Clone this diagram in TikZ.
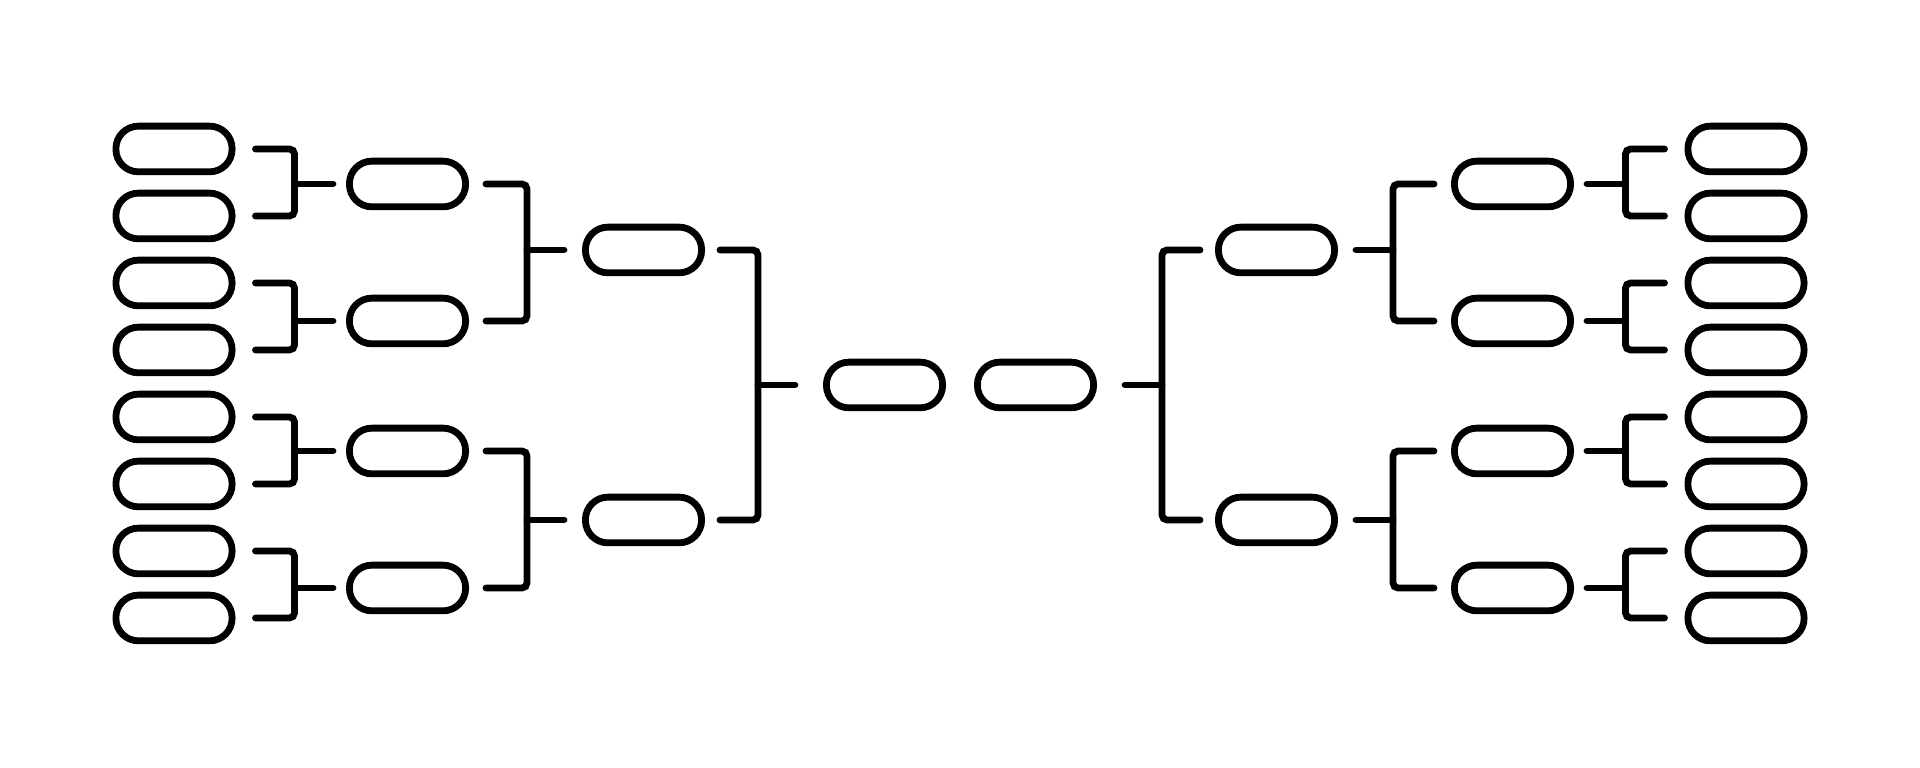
\documentclass[tikz,border=0pt]{standalone}
\usetikzlibrary{calc}
\tikzset{
  slot/.style={draw, line width=0.68mm, rounded corners=2.25mm, minimum width=11.62mm, minimum height=4.57mm, inner sep=0pt},
  link/.style={line width=0.68mm, line cap=round, rounded corners=0.5mm}
}
\begin{document}
\begin{tikzpicture}[x=0.1mm, y=-0.1mm]
  \useasboundingbox (0,0) rectangle (1920,768);
  \node[slot] (L11) at (174,149) {};
  \node[slot] (L12) at (174,216) {};
  \node[slot] (L13) at (174,283) {};
  \node[slot] (L14) at (174,350) {};
  \node[slot] (L15) at (174,417) {};
  \node[slot] (L16) at (174,484) {};
  \node[slot] (L17) at (174,551) {};
  \node[slot] (L18) at (174,618) {};
  \node[slot] (L21) at (407.5,184) {};
  \node[slot] (L22) at (407.5,321) {};
  \node[slot] (L23) at (407.5,451) {};
  \node[slot] (L24) at (407.5,588) {};
  \node[slot] (L31) at (643.5,250) {};
  \node[slot] (L32) at (643.5,520) {};
  \node[slot] (L4) at (884.5,385) {};
  \node[slot] (R4) at (1035.5,385) {};
  \node[slot] (R31) at (1276.5,250) {};
  \node[slot] (R32) at (1276.5,520) {};
  \node[slot] (R21) at (1512.5,184) {};
  \node[slot] (R22) at (1512.5,321) {};
  \node[slot] (R23) at (1512.5,451) {};
  \node[slot] (R24) at (1512.5,588) {};
  \node[slot] (R11) at (1746,149) {};
  \node[slot] (R12) at (1746,216) {};
  \node[slot] (R13) at (1746,283) {};
  \node[slot] (R14) at (1746,350) {};
  \node[slot] (R15) at (1746,417) {};
  \node[slot] (R16) at (1746,484) {};
  \node[slot] (R17) at (1746,551) {};
  \node[slot] (R18) at (1746,618) {};
  \begin{scope}[link]
    \draw ($(L11.east)+(20,0)$) -- ++(39,0) coordinate (jL21) |- ($(L12.east)+(20,0)$);
    \draw (jL21 |- L21) -- ($(L21.west)+(-13,0)$);
    \draw ($(L13.east)+(20,0)$) -- ++(39,0) coordinate (jL22) |- ($(L14.east)+(20,0)$);
    \draw (jL22 |- L22) -- ($(L22.west)+(-13,0)$);
    \draw ($(L15.east)+(20,0)$) -- ++(39,0) coordinate (jL23) |- ($(L16.east)+(20,0)$);
    \draw (jL23 |- L23) -- ($(L23.west)+(-13,0)$);
    \draw ($(L17.east)+(20,0)$) -- ++(39,0) coordinate (jL24) |- ($(L18.east)+(20,0)$);
    \draw (jL24 |- L24) -- ($(L24.west)+(-13,0)$);
    \draw ($(L21.east)+(17,0)$) -- ++(41,0) coordinate (jL31) |- ($(L22.east)+(17,0)$);
    \draw (jL31 |- L31) -- ($(L31.west)+(-18,0)$);
    \draw ($(L23.east)+(17,0)$) -- ++(41,0) coordinate (jL32) |- ($(L24.east)+(17,0)$);
    \draw (jL32 |- L32) -- ($(L32.west)+(-18,0)$);
    \draw ($(L31.east)+(15,0)$) -- ++(38,0) coordinate (jL4) |- ($(L32.east)+(15,0)$);
    \draw (jL4 |- L4) -- ($(L4.west)+(-28,0)$);
    \draw ($(R11.west)+(-20,0)$) -- ++(-39,0) coordinate (jR21) |- ($(R12.west)+(-20,0)$);
    \draw (jR21 |- R21) -- ($(R21.east)+(13,0)$);
    \draw ($(R13.west)+(-20,0)$) -- ++(-39,0) coordinate (jR22) |- ($(R14.west)+(-20,0)$);
    \draw (jR22 |- R22) -- ($(R22.east)+(13,0)$);
    \draw ($(R15.west)+(-20,0)$) -- ++(-39,0) coordinate (jR23) |- ($(R16.west)+(-20,0)$);
    \draw (jR23 |- R23) -- ($(R23.east)+(13,0)$);
    \draw ($(R17.west)+(-20,0)$) -- ++(-39,0) coordinate (jR24) |- ($(R18.west)+(-20,0)$);
    \draw (jR24 |- R24) -- ($(R24.east)+(13,0)$);
    \draw ($(R21.west)+(-17,0)$) -- ++(-41,0) coordinate (jR31) |- ($(R22.west)+(-17,0)$);
    \draw (jR31 |- R31) -- ($(R31.east)+(18,0)$);
    \draw ($(R23.west)+(-17,0)$) -- ++(-41,0) coordinate (jR32) |- ($(R24.west)+(-17,0)$);
    \draw (jR32 |- R32) -- ($(R32.east)+(18,0)$);
    \draw ($(R31.west)+(-15,0)$) -- ++(-38,0) coordinate (jR4) |- ($(R32.west)+(-15,0)$);
    \draw (jR4 |- R4) -- ($(R4.east)+(28,0)$);
  \end{scope}
\end{tikzpicture}
\end{document}
